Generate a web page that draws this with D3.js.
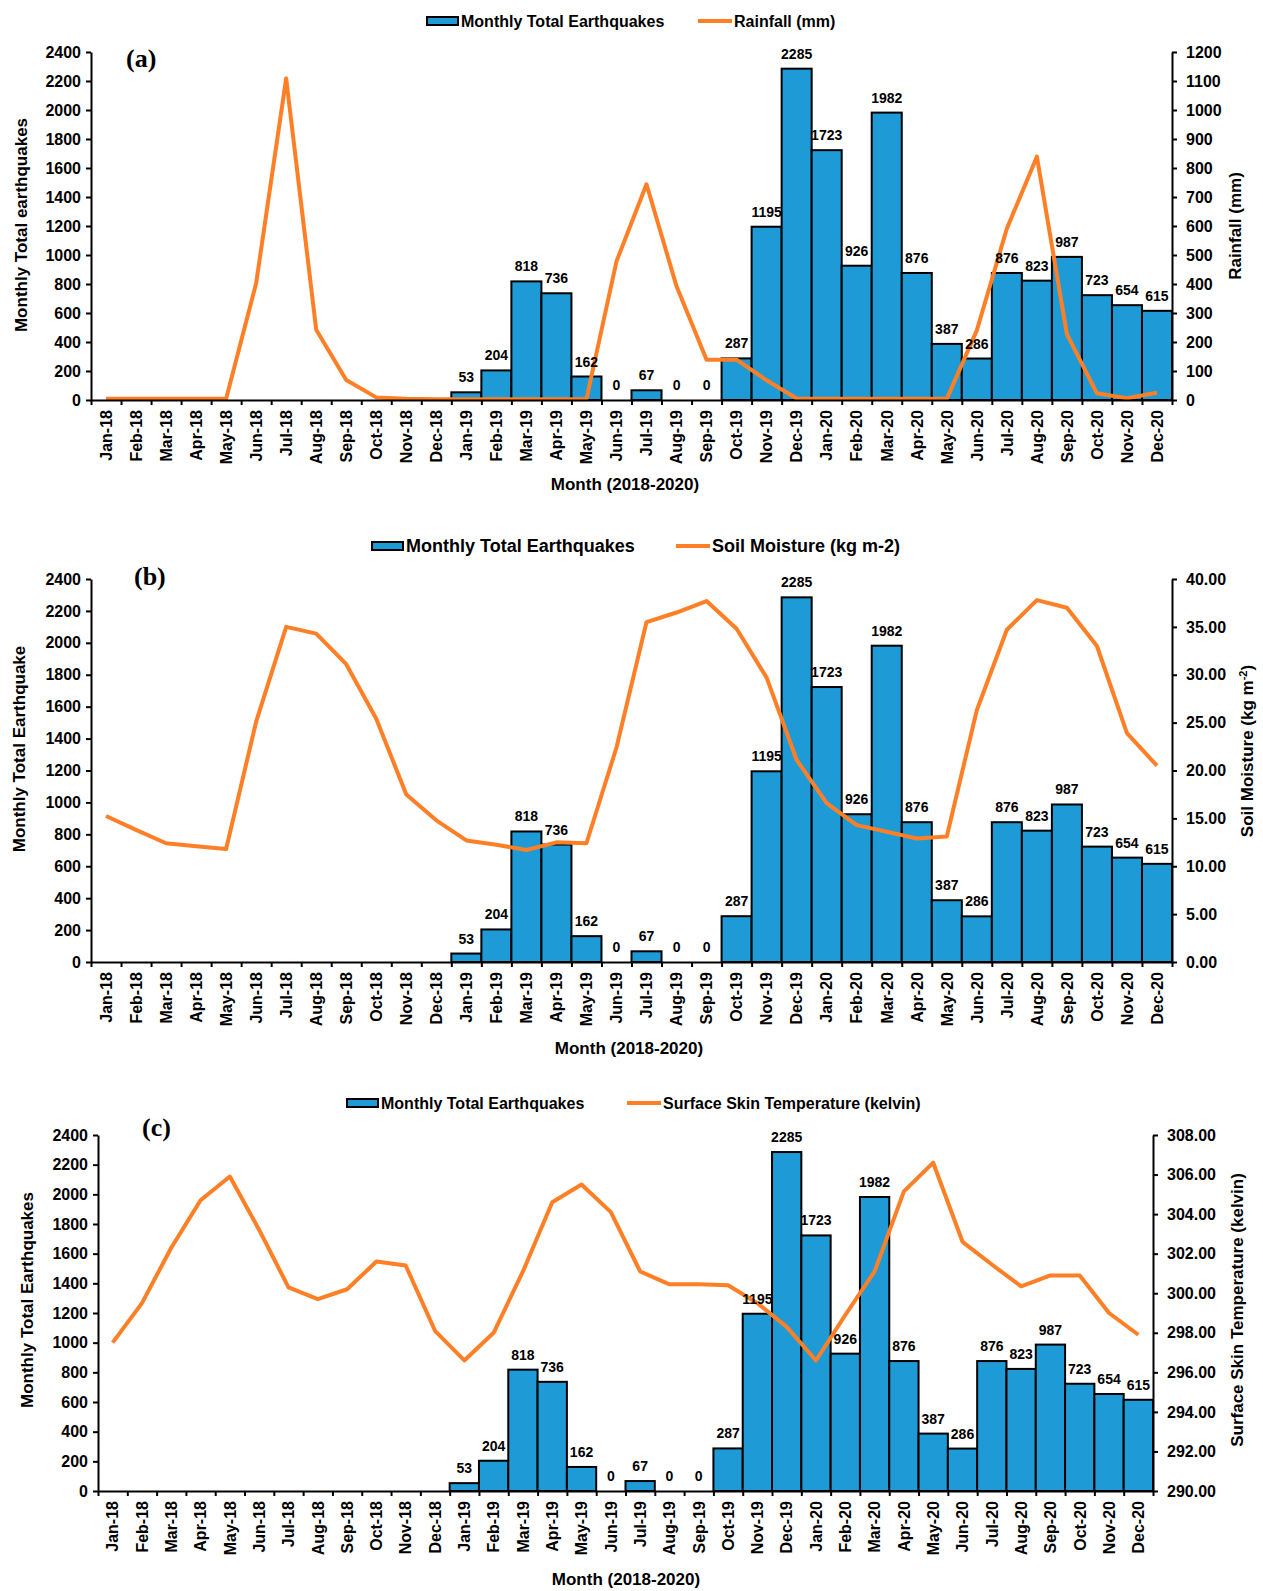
<!DOCTYPE html>
<html>
<head>
<meta charset="utf-8">
<script src="https://cdn.jsdelivr.net/npm/d3@7"></script>
<style>
  body { margin: 0; background: #fff; }
  text { font-family: "Liberation Sans", Arial, sans-serif; font-weight: bold; fill: #000; }
</style>
</head>
<body>
<div id="chart"></div>
<script>
// data
var months = ["Jan-18","Feb-18","Mar-18","Apr-18","May-18","Jun-18","Jul-18","Aug-18","Sep-18","Oct-18","Nov-18","Dec-18",
              "Jan-19","Feb-19","Mar-19","Apr-19","May-19","Jun-19","Jul-19","Aug-19","Sep-19","Oct-19","Nov-19","Dec-19",
              "Jan-20","Feb-20","Mar-20","Apr-20","May-20","Jun-20","Jul-20","Aug-20","Sep-20","Oct-20","Nov-20","Dec-20"];

// no earthquake record for 2018 (no bars, no labels)
var quakes = [null,null,null,null,null,null,null,null,null,null,null,null,
              53,204,818,736,162,0,67,0,0,287,1195,2285,
              1723,926,1982,876,387,286,876,823,987,723,654,615];

var rainfall = [4,4,4,4,4,403,1109,242,69,9,4,3,
                3,3,3,3,3,478,744,392,139,139,68,5,
                4,4,4,4,4,240,591,839,227,23,6,25];

var soilMoisture = [15.25,13.8,12.4,12.1,11.8,25.1,35.0,34.3,31.1,25.4,17.5,14.8,
                    12.7,12.25,11.7,12.5,12.4,22.4,35.5,36.5,37.7,34.8,29.7,21.1,
                    16.6,14.3,13.6,12.9,13.1,26.3,34.7,37.8,37.0,33.0,23.9,20.5];

var skinTemp = [297.5,299.5,302.3,304.7,305.9,303.2,300.3,299.7,300.2,301.6,301.4,298.1,
                296.6,298.0,301.1,304.6,305.5,304.1,301.1,300.45,300.45,300.4,299.5,298.3,
                296.6,298.9,301.1,305.15,306.6,302.6,301.45,300.35,300.9,300.9,299.0,297.9];

var quakeTicks = [0,200,400,600,800,1000,1200,1400,1600,1800,2000,2200,2400];
var rainTicks = [0,100,200,300,400,500,600,700,800,900,1000,1100,1200];
var soilTicks = [0,5,10,15,20,25,30,35,40];
var tempTicks = [290,292,294,296,298,300,302,304,306,308];

var barColor = "#1e9bd7";
var lineColor = "#ff7f27";

var svg = d3.select("#chart").append("svg")
    .attr("width", 1263)
    .attr("height", 1591);

function drawPanel(p) {
    var g = svg.append("g");

    var x = d3.scaleBand().domain(months).range([p.left, p.right]);
    var xLin = d3.scaleLinear().domain([0, months.length]).range([p.left, p.right]);
    var y = d3.scaleLinear().domain([0, 2400]).range([p.bottom, p.top]);
    var yR = d3.scaleLinear().domain([p.rTicks[0], p.rTicks[p.rTicks.length - 1]]).range([p.bottom, p.top]);

    var rows = months.map(function(m, i) { return {m: m, q: quakes[i], v: p.series[i]}; });

    // bars
    g.selectAll("rect.bar")
        .data(rows.filter(function(d) { return d.q != null; }))
        .enter().append("rect")
        .attr("class", "bar")
        .attr("x", function(d) { return x(d.m); })
        .attr("y", function(d) { return y(d.q); })
        .attr("width", x.bandwidth())
        .attr("height", function(d) { return p.bottom - y(d.q); })
        .attr("fill", barColor)
        .attr("stroke", "#000")
        .attr("stroke-width", 2);

    // the line
    var line = d3.line()
        .x(function(d) { return x(d.m) + x.bandwidth() / 2; })
        .y(function(d) { return yR(d.v); });

    g.append("path")
        .datum(rows)
        .attr("d", line)
        .attr("fill", "none")
        .attr("stroke", lineColor)
        .attr("stroke-width", 4)
        .attr("stroke-linejoin", "round");

    // bar labels
    g.selectAll("text.lbl")
        .data(rows.filter(function(d) { return d.q != null; }))
        .enter().append("text")
        .attr("class", "lbl")
        .attr("x", function(d) { return x(d.m) + x.bandwidth() / 2; })
        .attr("y", function(d) { return y(d.q) - 10; })
        .attr("text-anchor", "middle")
        .style("font-size", "14px")
        .text(function(d) { return d.q; });

    // left axis
    var yAxis = g.append("g")
        .attr("transform", "translate(" + p.left + ",0)")
        .call(d3.axisLeft(y).tickValues(quakeTicks).tickSize(5).tickSizeOuter(0).tickPadding(5)
            .tickFormat(d3.format("d")));

    // right axis
    var rAxis = g.append("g")
        .attr("transform", "translate(" + p.right + ",0)")
        .call(d3.axisRight(yR).tickValues(p.rTicks).tickSize(5).tickSizeOuter(0).tickPadding(9)
            .tickFormat(d3.format(p.rFormat)));

    // bottom axis: ticks between categories, labels rotated
    var xTicks = g.append("g")
        .attr("transform", "translate(0," + p.bottom + ")")
        .call(d3.axisBottom(xLin).tickValues(d3.range(months.length + 1)).tickSize(5).tickSizeOuter(0).tickFormat(""));

    var xLabels = g.append("g")
        .attr("transform", "translate(0," + p.bottom + ")")
        .call(d3.axisBottom(x).tickSize(0).tickPadding(0));
    xLabels.select(".domain").remove();
    xLabels.selectAll("text")
        .attr("transform", "rotate(-90)")
        .attr("text-anchor", "end")
        .attr("x", -10)
        .attr("y", 0)
        .attr("dy", "0.36em");

    [yAxis, rAxis, xTicks, xLabels].forEach(function(a) {
        a.selectAll("text").style("font-size", "16px").style("font-family", "'Liberation Sans', Arial, sans-serif").attr("fill", "#000");
        a.selectAll("path, line").attr("stroke", "#000").attr("stroke-width", 2);
    });

    // axis titles
    g.append("text")
        .attr("transform", "translate(" + p.yTitleX + "," + p.yTitleY + ") rotate(-90)")
        .attr("text-anchor", "middle")
        .attr("dy", "0.35em")
        .style("font-size", "17px")
        .text(p.yTitle);

    var rt = g.append("text")
        .attr("transform", "translate(" + p.rTitleX + "," + p.rTitleY + ") rotate(-90)")
        .attr("text-anchor", "middle")
        .attr("dy", "0.35em")
        .style("font-size", "17px")
        .text(p.rTitle);
    if (p.rTitleSup) {
        rt.append("tspan").attr("baseline-shift", "super").style("font-size", "11px").text(p.rTitleSup);
        rt.append("tspan").text(")");
    }

    g.append("text")
        .attr("x", p.xTitleX)
        .attr("y", p.xTitleY)
        .attr("text-anchor", "middle")
        .attr("dy", "0.35em")
        .style("font-size", "17px")
        .text("Month (2018-2020)");

    // panel letter
    g.append("text")
        .attr("x", p.letterX)
        .attr("y", p.letterY)
        .style("font-family", "'Liberation Serif', 'Times New Roman', serif")
        .style("font-size", "26px")
        .text(p.letter);

    // legend
    var lg = g.append("g");
    lg.append("rect")
        .attr("x", p.leg[0]).attr("y", p.legY - 4)
        .attr("width", 31).attr("height", 8)
        .attr("fill", barColor).attr("stroke", "#000").attr("stroke-width", 2);
    lg.append("text")
        .attr("x", p.leg[0] + 34).attr("y", p.legY).attr("dy", "0.35em")
        .style("font-size", p.legFont + "px")
        .text("Monthly Total Earthquakes");
    lg.append("line")
        .attr("x1", p.leg[1]).attr("x2", p.leg[1] + 34)
        .attr("y1", p.legY).attr("y2", p.legY)
        .attr("stroke", lineColor).attr("stroke-width", 4);
    lg.append("text")
        .attr("x", p.leg[1] + 36).attr("y", p.legY).attr("dy", "0.35em")
        .style("font-size", p.legFont + "px")
        .text(p.lineName);
}

drawPanel({
    left: 91, right: 1172, top: 52, bottom: 400,
    series: rainfall, rTicks: rainTicks, rFormat: "d",
    yTitle: "Monthly Total earthquakes", yTitleX: 21, yTitleY: 225,
    rTitle: "Rainfall (mm)", rTitleX: 1235, rTitleY: 226,
    xTitleX: 625, xTitleY: 484,
    letter: "(a)", letterX: 126, letterY: 67,
    leg: [427, 698], legY: 21, legFont: 16, lineName: "Rainfall (mm)"
});

drawPanel({
    left: 91, right: 1172, top: 579, bottom: 962,
    series: soilMoisture, rTicks: soilTicks, rFormat: ".2f",
    yTitle: "Monthly Total Earthquake", yTitleX: 19, yTitleY: 749,
    rTitle: "Soil Moisture (kg m", rTitleSup: "-2", rTitleX: 1247, rTitleY: 751,
    xTitleX: 629, xTitleY: 1048,
    letter: "(b)", letterX: 134, letterY: 585,
    leg: [372, 676], legY: 546, legFont: 18, lineName: "Soil Moisture (kg m-2)"
});

drawPanel({
    left: 98, right: 1153, top: 1135, bottom: 1491,
    series: skinTemp, rTicks: tempTicks, rFormat: ".2f",
    yTitle: "Monthly Total Earthquakes", yTitleX: 27, yTitleY: 1300,
    rTitle: "Surface Skin Temperature (kelvin)", rTitleX: 1237, rTitleY: 1310,
    xTitleX: 626, xTitleY: 1579,
    letter: "(c)", letterX: 142, letterY: 1136,
    leg: [347, 627], legY: 1103, legFont: 16, lineName: "Surface Skin Temperature (kelvin)"
});
</script>
</body>
</html>
